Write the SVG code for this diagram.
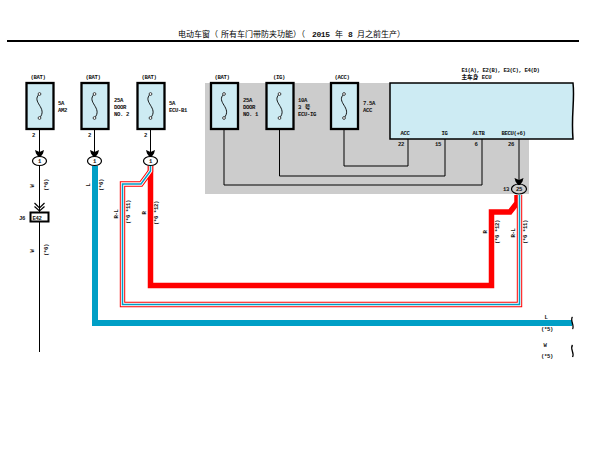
<svg xmlns="http://www.w3.org/2000/svg" width="604" height="462" viewBox="0 0 604 462">
<style>
text{font-family:"Liberation Mono","Noto Sans CJK SC",monospace;font-size:5.6px;letter-spacing:-.36px;font-weight:bold;fill:#111}
.c{text-anchor:middle}
.t{font-size:8px;letter-spacing:0;font-weight:normal;fill:#000}
.m{font-family:"Liberation Mono",monospace;font-size:8px;letter-spacing:-.4px;font-weight:bold}
.fuse{fill:#cdebf3;stroke:#000;stroke-width:2.300}
.fs{fill:none;stroke:#000;stroke-width:.9}
.w{fill:none;stroke:#000;stroke-width:1}
.pin{fill:#fff;stroke:#000;stroke-width:1.200}
</style>
<defs>
<g id="fuse">
<rect class="fuse" x="-13" y="0" width="27" height="46"/>
<path class="fs" d="M0 11C-9 19 9 25 0 35"/>
<circle cx="0" cy="11" r="1.400" fill="#fff" stroke="#000" stroke-width=".7"/>
<circle cx="0" cy="35" r="1.400" fill="#fff" stroke="#000" stroke-width=".7"/>
</g>
<path id="pinin" d="M-4.500 0L0 2L4.500 0L3.500 3.500L1 7H-1L-3.500 3.500Z" fill="#000"/>
</defs>
<rect width="604" height="462" fill="#fff"/>
<rect x="205" y="83" width="324" height="111" fill="#cccccc"/>
<path d="M7 41H579" stroke="#000" stroke-width="2"/>
<g id="title">
<text class="t" x="178" y="37">电动车窗（</text>
<text class="t" x="221" y="37">所有车门带防夹功能</text>
<text class="t" x="293" y="37">）（</text>
<text class="m" x="312" y="37">2015</text>
<text class="t" x="335" y="37">年</text>
<text class="m" x="348" y="37">8</text>
<text class="t" x="357" y="37">月之前生产）</text>
</g>
<g id="connectors">
<path d="M95 166V323H572" fill="none" stroke="#009fc6" stroke-width="6"/>
<path d="M150.500 166V285.500H491.500V212H510L517 203V195" fill="none" stroke="#ff0000" stroke-width="5.500"/>
<g fill="none">
<path d="M150.500 166V171L141 184H122.500V304.500H519.500V195" stroke="#ff0000" stroke-width="5.400"/>
<path d="M150.500 166V171L141 184H122.500V304.500H519.500V195" stroke="#fff" stroke-width="3.400"/>
<path d="M150.500 166V171L141 184H122.500V304.500H519.500V195" stroke="#009fc6" stroke-width="1.500"/>
</g>
<path class="w" d="M39.500 118V152M39.500 166V352M94.500 118V152M150.500 118V152M224 118V185H482V139M279.500 118V176H445V139M344 118V166H408V139M519 139V180"/>
</g>
<g id="ecu">
<path d="M390 83H573C575 100 571 115 573 139H390Z" fill="#cdebf3" stroke="#000" stroke-width="1.500"/>
<text x="461.500" y="71.500">E1(A), E2(B), E3(C), E4(D)</text>
<text x="461.500" y="78.500" style="letter-spacing:0">主车身 ECU</text>
<text x="400.500" y="135">ACC</text>
<text x="441.500" y="135">IG</text>
<text x="472.500" y="135">ALTB</text>
<text x="501.500" y="135">BECU(+6)</text>
<text class="c" x="401" y="146">22</text>
<text class="c" x="438" y="146">15</text>
<text class="c" x="476" y="146">6</text>
<text class="c" x="511" y="146">26</text>
</g>
<g id="fuse1"><use href="#fuse" x="39.500" y="83"/><text class="c" x="38" y="79">(BAT)</text><text x="58" y="105">5A</text><text x="58" y="112">AM2</text><text x="32" y="137">2</text></g>
<g id="fuse2"><use href="#fuse" x="94.500" y="83"/><text class="c" x="93" y="79">(BAT)</text><text x="114" y="102">25A</text><text x="114" y="109">DOOR</text><text x="114" y="115.500">NO. 2</text><text x="88" y="137">2</text></g>
<g id="fuse3"><use href="#fuse" x="150.500" y="83"/><text class="c" x="149" y="79">(BAT)</text><text x="169" y="105">5A</text><text x="169" y="112">ECU-B1</text><text x="144" y="137">2</text></g>
<g id="fuse4"><use href="#fuse" x="224" y="83"/><text class="c" x="222" y="79">(BAT)</text><text x="243" y="102">25A</text><text x="243" y="109">DOOR</text><text x="243" y="115.500">NO. 1</text></g>
<g id="fuse5"><use href="#fuse" x="279.500" y="83"/><text class="c" x="279" y="79">(IG)</text><text x="298" y="102">10A</text><text x="298" y="109" style="letter-spacing:0">3 号</text><text x="298" y="115.500">ECU-IG</text></g>
<g id="fuse6"><use href="#fuse" x="344" y="83"/><text class="c" x="342" y="79">(ACC)</text><text x="363" y="105">7.5A</text><text x="363" y="112">ACC</text></g>
<g id="c1"><use href="#pinin" x="39.500" y="150"/><ellipse class="pin" cx="39.500" cy="161" rx="7" ry="4.500"/><text class="c" x="39.500" y="163">1</text></g>
<g id="c2"><use href="#pinin" x="94.500" y="150"/><ellipse class="pin" cx="94.500" cy="161" rx="7" ry="4.500"/><text class="c" x="94.500" y="163">1</text></g>
<g id="c3"><use href="#pinin" x="150.500" y="150"/><ellipse class="pin" cx="150.500" cy="161" rx="7" ry="4.500"/><text class="c" x="150.500" y="163">1</text></g>
<g id="c4"><use href="#pinin" x="519" y="178"/><ellipse cx="519" cy="189" rx="7.500" ry="5" fill="none" stroke="#000" stroke-width="1.200"/><text class="c" x="519" y="191">25</text><text x="503" y="191">13</text></g>
<g id="j6">
<path class="fs" d="M34.500 203L39.500 208L44.500 203M34.500 206.500L39.500 211L44.500 206.500" style="stroke-width:1.200"/>
<rect x="30.500" y="212.500" width="18" height="9" fill="#fff" stroke="#000" stroke-width="2"/>
<text x="32.500" y="219.500">E42</text><text x="19" y="219.500">J6</text>
</g>
<g id="labels">
<text transform="translate(34 186) rotate(-90)" class="c">W</text>
<text transform="translate(48 185) rotate(-90)" class="c">(*6)</text>
<text transform="translate(34 251) rotate(-90)" class="c">W</text>
<text transform="translate(48 250) rotate(-90)" class="c">(*6)</text>
<text transform="translate(90 185) rotate(-90)" class="c">L</text>
<text transform="translate(103 185) rotate(-90)" class="c">(*6)</text>
<text transform="translate(118 214) rotate(-90)" class="c">R-L</text>
<text transform="translate(130 212) rotate(-90)" class="c">(*6 *11)</text>
<text transform="translate(146 213) rotate(-90)" class="c">R</text>
<text transform="translate(158 213) rotate(-90)" class="c">(*6 *12)</text>
<text transform="translate(487 232) rotate(-90)" class="c">R</text>
<text transform="translate(499 232) rotate(-90)" class="c">(*6 *12)</text>
<text transform="translate(515 233) rotate(-90)" class="c">R-L</text>
<text transform="translate(527 232) rotate(-90)" class="c">(*6 *11)</text>
<text class="c" x="546" y="319">L</text><text class="c" x="547" y="331">(*5)</text>
<text class="c" x="545" y="347">W</text><text class="c" x="547" y="358">(*5)</text>
</g>
<path id="break1" d="M572.500 317C569.500 320 575 326 572.500 329" class="fs" style="stroke-width:1.300"/>
<path id="break2" d="M572.500 345C569.500 349 575 353 572.500 357" class="fs" style="stroke-width:1.300"/>
</svg>
